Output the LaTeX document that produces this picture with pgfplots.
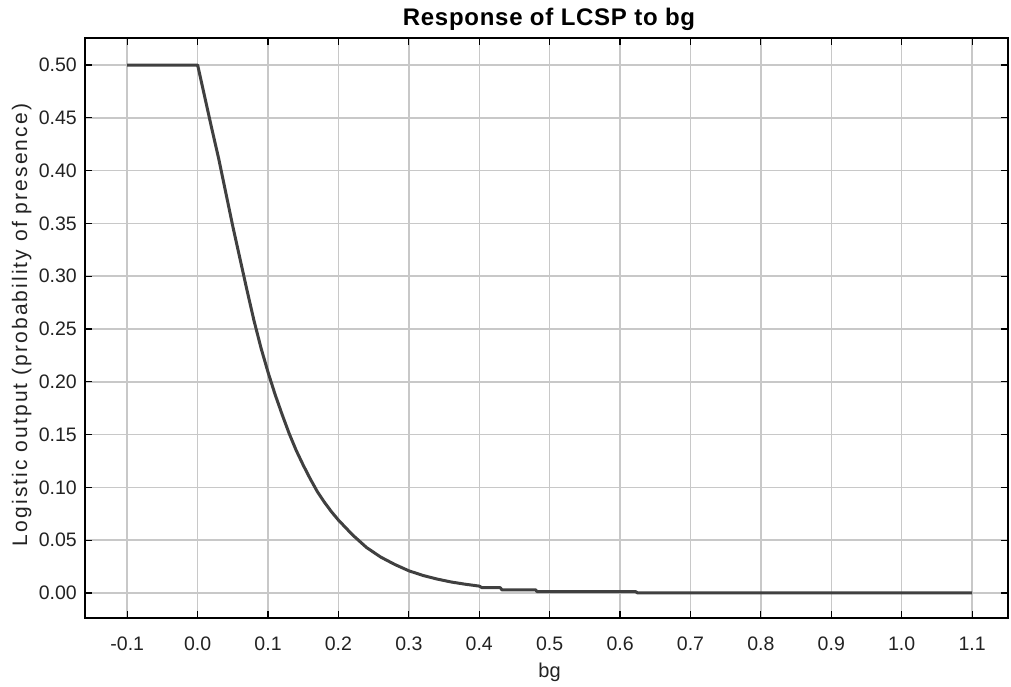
\documentclass[border=0pt]{standalone}
\usepackage{pgfplots}
\pgfplotsset{compat=1.18}
\usepackage{fontspec}
\setmainfont{Liberation Sans}
\newfontfamily\titlefont[LetterSpace=3]{Liberation Sans}
\newfontfamily\ylabfont[LetterSpace=10]{Liberation Sans}
\definecolor{gridgray}{RGB}{200,200,200}
\definecolor{curve}{RGB}{64,64,64}
\definecolor{txt}{RGB}{34,34,34}
\pgfplotstableread{
x y
-0.1 0.5
0.0 0.5
0.01 0.470
0.02 0.440
0.03 0.411
0.04 0.379
0.05 0.347
0.06 0.317
0.07 0.287
0.08 0.258
0.09 0.232
0.10 0.209
0.11 0.188
0.12 0.169
0.13 0.151
0.14 0.135
0.15 0.121
0.16 0.108
0.17 0.096
0.18 0.086
0.19 0.077
0.20 0.069
0.22 0.055
0.24 0.043
0.26 0.034
0.28 0.027
0.30 0.021
0.32 0.0166
0.34 0.0132
0.36 0.0104
0.38 0.0083
0.40 0.0065
0.404 0.005
0.43 0.005
0.432 0.003
0.48 0.003
0.482 0.0013
0.622 0.0013
0.625 0.0
1.1 0.0
}\curvedata
\begin{document}
\begin{tikzpicture}
\useasboundingbox (0,0) rectangle (1011bp,687bp);
\begin{axis}[
  at={(85bp,69bp)}, anchor=south west,
  scale only axis, width=923bp, height=580bp,
  xmin=-0.16, xmax=1.151, ymin=-0.0237, ymax=0.5256,
  xtick={-0.1,0,0.1,0.2,0.3,0.4,0.5,0.6,0.7,0.8,0.9,1.0,1.1},
  xticklabels={-0.1,0.0,0.1,0.2,0.3,0.4,0.5,0.6,0.7,0.8,0.9,1.0,1.1},
  ytick={0,0.05,0.1,0.15,0.2,0.25,0.3,0.35,0.4,0.45,0.5},
  yticklabels={0.00,0.05,0.10,0.15,0.20,0.25,0.30,0.35,0.40,0.45,0.50},
  tick align=inside, major tick length=7bp,
  tick style={black, line width=1.2bp},
  grid=major, major grid style={gridgray, line width=1.5bp},
  axis line style={black, line width=1.5bp},
  tick label style={font=\fontsize{19.5bp}{22bp}\selectfont, text=txt},
  xticklabel style={inner sep=0pt, anchor=north, yshift=-19bp},
  yticklabel style={inner sep=0pt, anchor=east, xshift=-8bp},
  clip=true,
]
\addplot[curve, line width=3bp, line join=round] table[x=x,y=y] {\curvedata};
\end{axis}
\node[anchor=center] at (549bp,668bp) {\titlefont\bfseries\fontsize{24bp}{28bp}\selectfont Response of LCSP to bg};
\node[anchor=base, text=txt, inner sep=0pt] at (549.5bp,10bp) {\fontsize{20bp}{24bp}\selectfont bg};
\node[anchor=base, rotate=90, text=txt, inner sep=0pt] at (27bp,362bp) {\ylabfont\fontsize{21bp}{25bp}\selectfont Logistic output (probability of presence)};
\end{tikzpicture}
\end{document}
